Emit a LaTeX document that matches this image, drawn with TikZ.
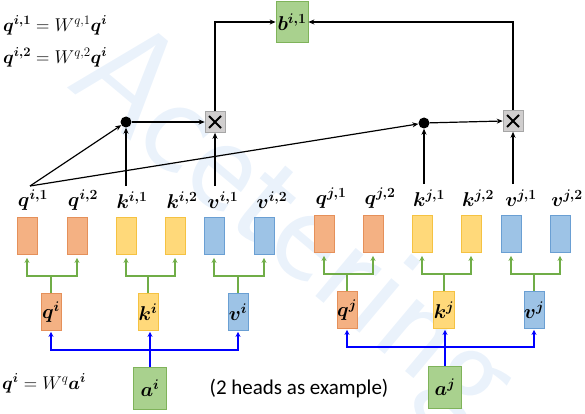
\RequirePackage{fix-cm}
\documentclass[tikz,border=0pt]{standalone}
\usepackage{amsmath}
\usepackage{bm}
\usepackage{fontspec}
\newfontfamily\carlito{Carlito}
\usetikzlibrary{arrows.meta,calc}
\definecolor{orfill}{HTML}{F4B183}
\definecolor{ordraw}{HTML}{E5905A}
\definecolor{yefill}{HTML}{FFD97A}
\definecolor{yedraw}{HTML}{F5C242}
\definecolor{blfill}{HTML}{9DC3E6}
\definecolor{bldraw}{HTML}{6A9FD3}
\definecolor{grfill}{HTML}{A9D18E}
\definecolor{grdraw}{HTML}{7FB35A}
\definecolor{grline}{HTML}{70AD47}
\definecolor{graybox}{HTML}{D0CECE}
\definecolor{graydraw}{HTML}{A6A6A6}
\definecolor{wmark}{HTML}{EAF2FB}
\begin{document}
\begin{tikzpicture}[x=1pt,y=-1pt,
  lab/.style={inner sep=0pt,font=\fontsize{20}{22}\selectfont},
  flab/.style={inner sep=0pt,font=\fontsize{18.5}{22}\selectfont},
  rbox/.style={draw,line width=0.8pt,minimum width=20pt,minimum height=37pt,inner sep=0pt},
  orb/.style={rbox,fill=orfill,draw=ordraw},
  yeb/.style={rbox,fill=yefill,draw=yedraw},
  blb/.style={rbox,fill=blfill,draw=bldraw},
  mbox/.style={draw,line width=0.8pt,minimum width=20pt,minimum height=37pt,inner sep=0pt,font=\fontsize{20}{22}\selectfont},
  grb/.style={draw=grdraw,fill=grfill,line width=0.8pt,minimum width=33pt,minimum height=42pt,inner sep=0pt,font=\fontsize{20}{22}\selectfont},
  dotn/.style={circle,fill=black,minimum size=11pt,inner sep=0pt},
  xbox/.style={fill=graybox,draw=graydraw,line width=0.6pt,minimum width=20pt,minimum height=21pt,inner sep=0pt},
  arr/.style={line width=1.2pt,-{Stealth[length=6pt,width=5pt]}},
  garr/.style={line width=1.8pt,draw=grline,-{Stealth[length=5pt,width=5pt]},shorten >=3pt},
  gline/.style={line width=1.8pt,draw=grline},
  barr/.style={line width=1.8pt,draw=blue,-{Stealth[length=5pt,width=5pt]},shorten >=1pt},
  bline/.style={line width=1.8pt,draw=blue},
  xcross/.style={line width=2pt}]
\useasboundingbox (0,0) rectangle (585,414);
% watermark
\node[text=wmark,rotate=-40,font=\sffamily\fontsize{145}{145}\selectfont] (wm) at (292,230) {Acetering};
% formulas
\node[flab,anchor=west] (f1) at (3,25) {$\bm{q^{i,1}} = W^{q,1}\bm{q^{i}}$};
\node[flab,anchor=west] (f2) at (3,57) {$\bm{q^{i,2}} = W^{q,2}\bm{q^{i}}$};
\node[flab,anchor=west] (f3) at (2,383) {$\bm{q^{i}} = W^{q}\bm{a^{i}}$};
\node[font=\carlito\fontsize{21}{24}\selectfont,inner sep=0pt] (ex) at (299,389) {(2 heads as example)};
% output
\node[grb,minimum width=32pt,minimum height=41pt] (b) at (292,22) {$\bm{b^{i,1}}$};
% dots and products
\node[dotn] (doti) at (126,122) {};
\node[xbox] (xi) at (215,122) {};
\node[dotn] (dotj) at (424,123) {};
\node[xbox] (xj) at (513,121) {};
\foreach \n in {xi,xj}{
  \draw[xcross] ([shift={(-6,-6)}]\n.center) -- ([shift={(6,6)}]\n.center);
  \draw[xcross] ([shift={(-6,6)}]\n.center) -- ([shift={(6,-6)}]\n.center);
}
% head labels
\node[lab] (lqi1) at (33,200) {$\bm{q^{i,1}}$};
\node[lab] (lqi2) at (83,200) {$\bm{q^{i,2}}$};
\node[lab] (lki1) at (132,200) {$\bm{k^{i,1}}$};
\node[lab] (lki2) at (182,200) {$\bm{k^{i,2}}$};
\node[lab] (lvi1) at (223,200) {$\bm{v^{i,1}}$};
\node[lab] (lvi2) at (272,200) {$\bm{v^{i,2}}$};
\node[lab] (lqj1) at (331,198) {$\bm{q^{j,1}}$};
\node[lab] (lqj2) at (380,198) {$\bm{q^{j,2}}$};
\node[lab] (lkj1) at (429,198) {$\bm{k^{j,1}}$};
\node[lab] (lkj2) at (478,198) {$\bm{k^{j,2}}$};
\node[lab] (lvj1) at (521,198) {$\bm{v^{j,1}}$};
\node[lab] (lvj2) at (567,198) {$\bm{v^{j,2}}$};
% head rects
\node[orb] (rqi1) at (27,236) {};
\node[orb] (rqi2) at (77,236) {};
\node[yeb] (rki1) at (126,236) {};
\node[yeb] (rki2) at (175,236) {};
\node[blb] (rvi1) at (214,236) {};
\node[blb] (rvi2) at (264,236) {};
\node[orb] (rqj1) at (324,234) {};
\node[orb] (rqj2) at (373,234) {};
\node[yeb] (rkj1) at (422,234) {};
\node[yeb] (rkj2) at (471,234) {};
\node[blb] (rvj1) at (511,234) {};
\node[blb] (rvj2) at (560,234) {};
% mid boxes
\node[mbox,fill=orfill,draw=ordraw] (qi) at (51,312) {$\bm{q^{i}}$};
\node[mbox,fill=yefill,draw=yedraw] (ki) at (148,312) {$\bm{k^{i}}$};
\node[mbox,fill=blfill,draw=bldraw] (vi) at (238,312) {$\bm{v^{i}}$};
\node[mbox,fill=orfill,draw=ordraw] (qj) at (347,310) {$\bm{q^{j}}$};
\node[mbox,fill=yefill,draw=yedraw] (kj) at (444,310) {$\bm{k^{j}}$};
\node[mbox,fill=blfill,draw=bldraw] (vj) at (534,310) {$\bm{v^{j}}$};
% inputs
\node[grb] (ai) at (150,388) {$\bm{a^{i}}$};
\node[grb] (aj) at (445,387) {$\bm{a^{j}}$};
% green split arrows
\foreach \m/\r/\s/\h in {qi/rqi1/rqi2/276, ki/rki1/rki2/276, vi/rvi1/rvi2/276, qj/rqj1/rqj2/274, kj/rkj1/rkj2/274, vj/rvj1/rvj2/274}{
  \coordinate (\m-s) at (\m.north |- 0,\h);
  \draw[gline] (\m.north) -- (\m-s);
  \draw[garr] (\m-s) -| (\r.south);
  \draw[garr] (\m-s) -| (\s.south);
}
% blue input arrows
\coordinate (ai-s) at (ai.north |- 0,350);
\draw[bline] (ai.north) -- (ai-s);
\draw[barr] (ai-s) -| (qi.south);
\draw[barr] (ai-s) -| (vi.south);
\draw[barr] (ai-s) -- (ki.south -| ai-s);
\coordinate (aj-s) at (aj.north |- 0,347);
\draw[bline] (aj.north) -- (aj-s);
\draw[barr] (aj-s) -| (qj.south);
\draw[barr] (aj-s) -| (vj.south);
\draw[barr] (aj-s) -- (kj.south -| aj-s);
% attention arrows
\coordinate (qs) at (30,186);
\draw[arr] (qs) -- (doti);
\draw[arr] (qs) -- (dotj);
\draw[arr] (doti |- 0,186) -- (doti.south);
\draw[arr] (xi |- 0,186) -- (xi.south);
\draw[arr] (dotj |- 0,184) -- (dotj.south);
\draw[arr] (xj |- 0,184) -- (xj.south);
\draw[arr] (doti) -- (xi.west);
\draw[arr] (dotj) -- (xj.west);
\draw[arr] (xi.north) |- (b.west);
\draw[arr] (xj.north) |- (b.east);
\end{tikzpicture}
\end{document}
